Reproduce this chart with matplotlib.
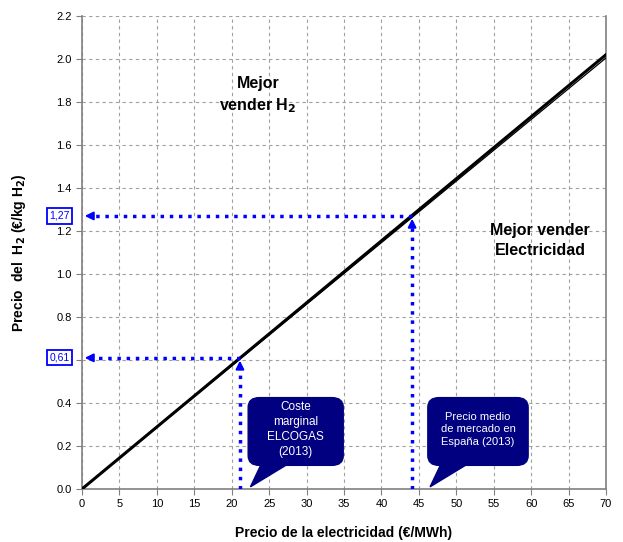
import matplotlib.pyplot as plt
from matplotlib.patches import FancyBboxPatch, Polygon

plt.rcParams['font.family'] = ['Liberation Sans', 'DejaVu Sans']

# datos
precio_elec = [0, 70]
precio_h2 = [0, 2.02]
precio_h2_b = [0, 2.005]
puntos_x = [21.1, 44.1]
puntos_y = [0.61, 1.27]
etiquetas_pt = ['0,61', '1,27']
xticks = list(range(0, 75, 5))
yticks = [round(0.2 * i, 1) for i in range(12)]
textos_globo = ['Coste\nmarginal\nELCOGAS\n(2013)', 'Precio medio\nde mercado en\nEspaña (2013)']
globo_x = [(22.2, 34.9), (46.2, 59.6)]
globo_fs = [8.5, 8]

azul = '#0000ff'
marino = '#000080'

fig = plt.figure(figsize=(6.23, 5.42), dpi=100)
ax = fig.add_axes([0.1316, 0.0978, 0.8411, 0.8727])

ax.set_xlim(0, 70)
ax.set_ylim(0, 2.2)
ax.set_xticks(xticks)
ax.set_yticks(yticks)
# la etiqueta 0.6 queda tapada por el recuadro 0,61
ax.set_yticklabels(['' if abs(v - 0.6) < 1e-6 else f'{v:.1f}' for v in yticks])
ax.tick_params(labelsize=8, direction='out', length=4, color='#808080')
ax.grid(True, linestyle=(0, (3, 3)), color='#a0a0a0', linewidth=0.8)
for s in ax.spines.values():
    s.set_color('#808080')
    s.set_linewidth(1.2)
ax.spines['top'].set_visible(False)

# lineas de equilibrio
ax.plot(precio_elec, precio_h2_b, color='black', linewidth=0.9, zorder=3)
ax.plot(precio_elec, precio_h2, color='black', linewidth=2.2, zorder=4)

# flechas punteadas
for px, py, lab in zip(puntos_x, puntos_y, etiquetas_pt):
    ax.plot([px, 0.9], [py, py], color=azul, linestyle=':', linewidth=2.5, zorder=5)
    ax.annotate('', xy=(0, py), xytext=(1.5, py),
                arrowprops=dict(arrowstyle='-|>', color=azul, lw=1.5, mutation_scale=12), zorder=5)
    ax.plot([px, px], [0, py - 0.03], color=azul, linestyle=':', linewidth=2.5, zorder=5)
    ax.annotate('', xy=(px, py), xytext=(px, py - 0.06),
                arrowprops=dict(arrowstyle='-|>', color=azul, lw=1.5, mutation_scale=12), zorder=5)
    ax.text(-3.0, py, lab, color=azul, fontsize=7.5, ha='center', va='center', zorder=10,
            bbox=dict(boxstyle='square,pad=0.25', fc='white', ec=azul, lw=1.3), clip_on=False)

# globos
for (x0, x1), txt, fs in zip(globo_x, textos_globo, globo_fs):
    y0, y1 = 0.11, 0.425
    box = FancyBboxPatch((x0, y0), x1 - x0, y1 - y0,
                         boxstyle='round,pad=0,rounding_size=1.5', mutation_aspect=0.03,
                         fc=marino, ec=marino, zorder=6)
    ax.add_patch(box)
    tail = Polygon([(x0 + 1.8, y0 + 0.01), (x0 + 5.5, y0 + 0.01), (x0 + 0.3, 0.01)],
                   closed=True, fc=marino, ec=marino, zorder=6)
    ax.add_patch(tail)
    ax.text((x0 + x1) / 2, (y0 + y1) / 2 + 0.01, txt, color='white', fontsize=fs,
            ha='center', va='center', linespacing=1.35, zorder=7)

ax.text(23.5, 1.83, 'Mejor\nvender H$_\\mathbf{2}$', fontsize=11.5, fontweight='bold',
        ha='center', va='center', linespacing=1.4)
ax.text(61.2, 1.155, 'Mejor vender\nElectricidad', fontsize=11.5, fontweight='bold',
        ha='center', va='center', linespacing=1.4)

ax.set_xlabel('Precio de la electricidad (€/MWh)', fontsize=10, fontweight='bold', labelpad=12)
ax.set_ylabel('Precio  del  H$_\\mathbf{2}$ (€/kg H$_\\mathbf{2}$)', fontsize=10,
              fontweight='bold', labelpad=20)

plt.savefig('out.png', dpi=100)
